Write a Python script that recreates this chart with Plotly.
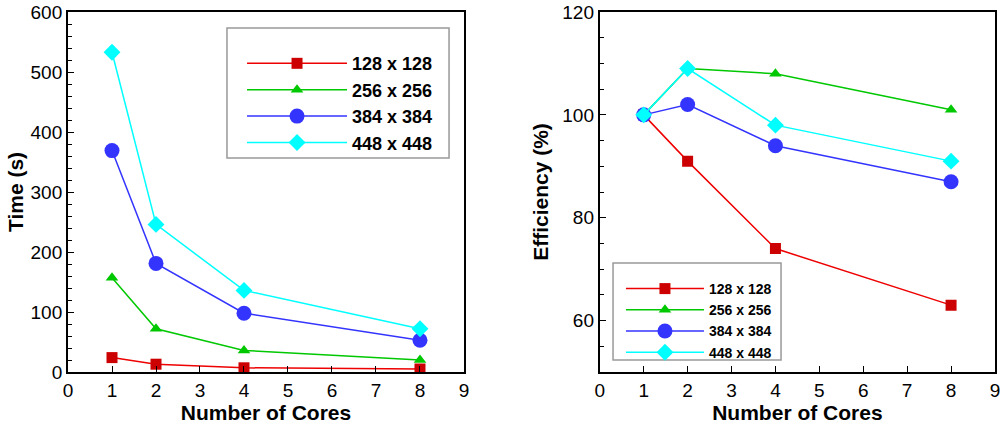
import plotly.graph_objects as go

cores = [1, 2, 4, 8]
series_names = ["128 x 128", "256 x 256", "384 x 384", "448 x 448"]
time_128 = [24, 13, 7, 5]
time_256 = [157, 72, 36, 20]
time_384 = [369, 181, 98, 53]
time_448 = [533, 246, 136, 72]
eff_128 = [100, 91, 74, 63]
eff_256 = [100, 109, 108, 101]
eff_384 = [100, 102, 94, 87]
eff_448 = [100, 109, 98, 91]

line_colors = ["#ee0000", "#00c800", "#3434ff", "#00ffff"]
marker_colors = ["#cc0000", "#00c800", "#3434ff", "#00ffff"]
symbols = ["square", "triangle-up", "circle", "diamond"]
sizes_l = [11, 11, 15, 13]
sizes_r = [11, 11, 15, 13]

times = [time_128, time_256, time_384, time_448]
effs = [eff_128, eff_256, eff_384, eff_448]

fig = go.Figure()
for i in range(4):
    fig.add_trace(go.Scatter(
        x=cores, y=times[i], name="<b>" + series_names[i] + "</b>", mode="lines+markers",
        line=dict(color=line_colors[i], width=1.5),
        marker=dict(symbol=symbols[i], size=sizes_l[i], color=marker_colors[i]),
        xaxis="x", yaxis="y", legend="legend"))
for i in range(4):
    fig.add_trace(go.Scatter(
        x=cores, y=effs[i], name="<b>" + series_names[i] + "</b>", mode="lines+markers",
        line=dict(color=line_colors[i], width=1.5),
        marker=dict(symbol=symbols[i], size=sizes_r[i], color=marker_colors[i]),
        xaxis="x2", yaxis="y2", legend="legend2"))

font_family = "Liberation Sans, Arial, sans-serif"
ax_common = dict(showline=True, linecolor="black", linewidth=2, mirror=True,
                 showgrid=False, zeroline=False, ticks="inside", ticklen=6,
                 tickwidth=1, tickcolor="black", automargin=False,
                 ticklabeloverflow="allow",
                 tickfont=dict(family=font_family, size=19, color="black"))
title_font = dict(family=font_family, size=21, color="black")

fig.update_layout(
    width=1003, height=426,
    margin=dict(l=0, r=0, t=12, b=54),
    paper_bgcolor="white", plot_bgcolor="white",
    font=dict(family=font_family, color="black"),
    xaxis=dict(domain=[0.0678, 0.4626], range=[0, 9], dtick=1, anchor="y",
               title=dict(text="<b>Number of Cores</b>", font=title_font, standoff=2),
               **ax_common),
    yaxis=dict(domain=[0, 1], range=[0, 600], dtick=100, anchor="x",
               minor=dict(dtick=20, ticks="inside", ticklen=4, tickcolor="black"),
               title=dict(text="<b>Time (s)</b>", font=title_font, standoff=1),
               **ax_common),
    xaxis2=dict(domain=[0.598, 0.992], range=[0, 9], dtick=1, anchor="y2",
                title=dict(text="<b>Number of Cores</b>", font=title_font, standoff=2),
                **ax_common),
    yaxis2=dict(domain=[0, 1], range=[50, 120], tick0=60, dtick=20, anchor="x2",
                minor=dict(dtick=5, ticks="inside", ticklen=4, tickcolor="black"),
                title=dict(text="<b>Efficiency (%)</b>", font=title_font, standoff=8),
                **ax_common),
    legend=dict(x=0.2413, y=0.908, xanchor="left", yanchor="top",
                borderwidth=0, bgcolor="rgba(0,0,0,0)",
                font=dict(size=18, family=font_family), itemwidth=100,
                traceorder="normal"),
    legend2=dict(x=0.6191, y=0.275, xanchor="left", yanchor="top",
                 borderwidth=0, bgcolor="rgba(0,0,0,0)",
                 font=dict(size=14, family=font_family), itemwidth=78,
                 traceorder="normal"),
    shapes=[
        dict(type="rect", xref="paper", yref="paper", x0=0.2263, x1=0.4477,
             y0=0.5944, y1=0.9556, line=dict(color="#999999", width=1.5),
             fillcolor="white", layer="below"),
        dict(type="rect", xref="paper", yref="paper", x0=0.6112, x1=0.7787,
             y0=0.0333, y1=0.3028, line=dict(color="#999999", width=1.5),
             fillcolor="white", layer="below"),
    ],
)

fig.write_html("out.html", config={"displayModeBar": False},
               post_script="document.body.style.margin='0';document.body.style.overflow='hidden';")
